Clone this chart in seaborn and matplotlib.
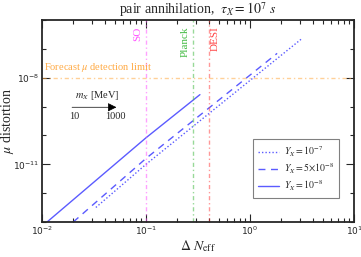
import numpy as np
import pandas as pd
import matplotlib
matplotlib.use('Agg')
import matplotlib.pyplot as plt
import seaborn as sns

# data
solid_x = [0.0112, 0.1, 0.33]
solid_y = [1e-13, 8.3e-11, 2.6e-9]
dashed_x = [0.02, 0.1, 1.82]
dashed_y = [1e-13, 1.6e-11, 7e-8]
dotted_x = [0.033, 0.1, 3.16]
dotted_y = [3.2e-13, 1e-11, 2.3e-7]

exp_names = ['SO', 'Planck', 'DESI']
exp_neff = [0.1, 0.28, 0.40]
exp_colors = ['#ff55ff', '#44bb44', '#ff4444']
mu_limit = 1e-8

sns.set_style('ticks')
plt.rcParams['font.family'] = ['DejaVu Sans']
plt.rcParams['mathtext.fontset'] = 'dejavusans'

fig = plt.figure(figsize=(3.61, 2.57), dpi=100)
ax = fig.add_axes([0.116, 0.136, 0.865, 0.786])

blue = '#5b5bff'
sns.lineplot(x=dotted_x, y=dotted_y, ax=ax, color=blue, lw=1.0,
             linestyle=(0, (1, 1.5)), label=r'$Y_X = 10^{-7}$')
sns.lineplot(x=dashed_x, y=dashed_y, ax=ax, color=blue, lw=1.0,
             linestyle=(0, (5, 4)), label=r'$Y_X = 5{\times}10^{-8}$')
sns.lineplot(x=solid_x, y=solid_y, ax=ax, color=blue, lw=1.0,
             linestyle='-', label=r'$Y_X = 10^{-8}$')

dashdot = (0, (3, 2, 1, 2))
for name, xv, c in zip(exp_names, exp_neff, exp_colors):
    ax.axvline(xv, color=c, lw=1.0, alpha=0.55, linestyle=dashdot)
ax.axhline(mu_limit, color='#ffaa44', lw=1.0, alpha=0.55, linestyle=dashdot)

serif = dict(family='Liberation Serif', math_fontfamily='stix')
ax.text(0.093, 6e-7, 'SO', rotation=90, color=exp_colors[0], fontsize=8,
        ha='right', va='top', **serif)
ax.text(0.265, 6e-7, 'Planck', rotation=90, color=exp_colors[1], fontsize=8,
        ha='right', va='top', **serif)
ax.text(0.415, 6e-7, 'DESI', rotation=90, color=exp_colors[2], fontsize=8,
        ha='left', va='top', **serif)
ax.text(0.0105, 1.35e-8, r'Forecast $\mu$ detection limit', color='#ffaa44',
        fontsize=7.5, ha='left', va='bottom', **serif)

ax.annotate('', xy=(0.052, 9.5e-10), xytext=(0.0195, 9.5e-10),
            arrowprops=dict(arrowstyle='-|>', color='black', lw=0.5,
                            mutation_scale=13, shrinkA=0, shrinkB=0))
ax.text(0.034, 1.5e-9, r'$m_X$ [MeV]', fontsize=7.5, ha='center', va='bottom', **serif)
ax.text(0.0205, 4.7e-10, '10', fontsize=7.5, ha='center', va='center', **serif)
ax.text(0.0514, 4.7e-10, '1000', fontsize=7.5, ha='center', va='center', **serif)

ax.set_xscale('log')
ax.set_yscale('log')
ax.set_xlim(1e-2, 1e1)
ax.set_ylim(1e-13, 1e-6)
ax.set_yticks([1e-11, 1e-8])
ax.set_yticks([10.0 ** k for k in range(-13, -5)], minor=True)
ax.yaxis.set_minor_formatter(matplotlib.ticker.NullFormatter())
ax.tick_params(which='both', direction='in', top=True, right=True, labelsize=6.5,
               width=0.8, pad=2)
ax.tick_params(which='major', length=6)
ax.tick_params(which='minor', length=3)
for s in ax.spines.values():
    s.set_linewidth(1.3)

ax.set_xlabel(r'$\Delta\ N_{\rm eff}$', fontsize=10, labelpad=1, **serif)
ax.set_ylabel(r'$\mu$ distortion', fontsize=10, labelpad=-2, **serif)
ax.set_title(r'pair annihilation,  $\tau_X = 10^7\ s$', fontsize=10, pad=4, **serif)

leg = ax.legend(loc='lower right', bbox_to_anchor=(0.968, 0.094), fontsize=7,
                fancybox=False, edgecolor='gray', framealpha=1, handlelength=2.2,
                borderpad=0.5, labelspacing=0.3, handletextpad=0.5)
leg.get_frame().set_linewidth(0.8)
for t in leg.get_texts():
    t.set_math_fontfamily('stix')
    t.set_family('Liberation Serif')

fig.savefig('out.png', dpi=100)
